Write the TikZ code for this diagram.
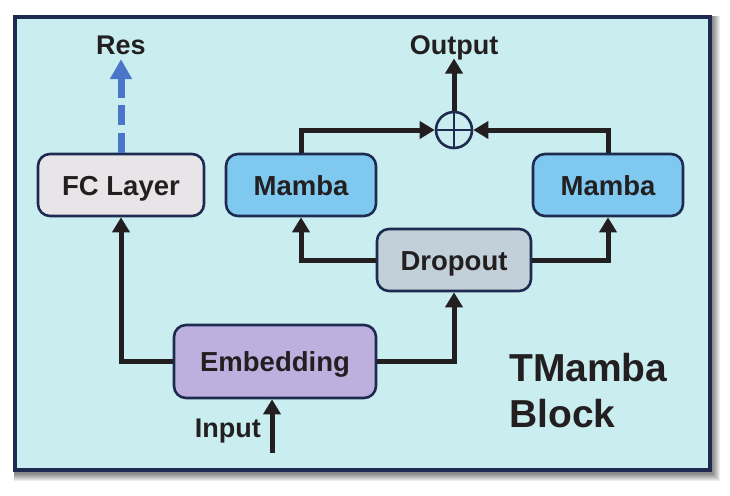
\documentclass[tikz,border=0pt]{standalone}
\usepackage{fontspec}
\setmainfont{Liberation Sans}
\usetikzlibrary{arrows.meta}
\definecolor{bgc}{HTML}{CAEDF0}
\definecolor{navy}{HTML}{1F2A50}
\definecolor{ink}{HTML}{231F20}
\definecolor{mambac}{HTML}{7FC8F0}
\definecolor{fcc}{HTML}{E8E5E8}
\definecolor{dropc}{HTML}{C2D0DA}
\definecolor{embc}{HTML}{BDB0DF}
\definecolor{resc}{HTML}{4A75C8}
\begin{document}
\begin{tikzpicture}[x=1pt,y=-1pt,
  blk/.style={draw=navy, line width=2.6pt, rounded corners=12pt, text=ink,
    font=\fontsize{27.5}{32}\selectfont\bfseries, inner sep=0pt,
    text height=20pt, text depth=0pt},
  lbl/.style={text=ink, font=\fontsize{27}{32}\selectfont\bfseries, inner sep=0pt, text depth=0pt},
  flow/.style={draw=ink, line width=5pt, -{Triangle[length=15pt,width=17pt]}},
]
\useasboundingbox (0,0) rectangle (730,495);
\fill[white] (0,0) rectangle (730,495);
% shadow of the frame
\foreach \s in {1,...,8}
  \fill[black, opacity=0.07] (14,16) rectangle (712+\s,473+\s);
% frame
\draw[navy, line width=4.6pt, fill=bgc] (15,17) rectangle (710,470);

% blocks
\node[blk, fill=fcc, minimum width=166pt, minimum height=62pt] (fc) at (121,185) {FC Layer};
\node[blk, fill=mambac, minimum width=150pt, minimum height=62pt] (ml) at (301,185) {Mamba};
\node[blk, fill=mambac, minimum width=150pt, minimum height=62pt] (mr) at (608,185) {Mamba};
\node[blk, fill=dropc, minimum width=154pt, minimum height=62pt] (drop) at (454,260) {Dropout};
\node[blk, fill=embc, minimum width=202pt, minimum height=73pt] (emb) at (275,361.5) {Embedding};
\node[circle, draw=navy, line width=2.6pt, fill=bgc, minimum size=36pt, inner sep=0pt] (plus) at (454,130) {};
\draw[navy, line width=2pt] (plus.center) ++(0,-18) -- ++(0,36);
\draw[navy, line width=2pt] (plus.center) ++(-18,0) -- ++(36,0);

% labels
\node[lbl, anchor=base] (res) at (121,55) {Res};
\node[lbl, anchor=base] (out) at (454,54.3) {Output};
\node[lbl, anchor=base east] (inlbl) at (261,437) {Input};
\node[text=ink, font=\fontsize{39}{46}\selectfont\bfseries, inner sep=0pt, align=left, anchor=west] (title) at (509,390.8) {TMamba\\Block};

% connectors
\coordinate (inp) at (272,453);
\draw[flow] (inp) -- (inp |- emb.south);
\draw[flow] (emb.west) -| (fc.south);
\draw[flow] (emb.east) -| (drop.south);
\draw[flow] (drop.west) -| (ml.south);
\draw[flow] (drop.east) -| (mr.south);
\draw[flow] (ml.north) |- (plus.west);
\draw[flow] (mr.north) |- (plus.east);
\draw[flow, shorten >=4pt] (plus.north) -- (out.south);
\draw[resc, line width=7pt, dash pattern=on 20pt off 7.5pt,
  -{Triangle[length=20pt,width=21pt]}, shorten >=4pt] (fc.north) -- (res.south);
\end{tikzpicture}
\end{document}
